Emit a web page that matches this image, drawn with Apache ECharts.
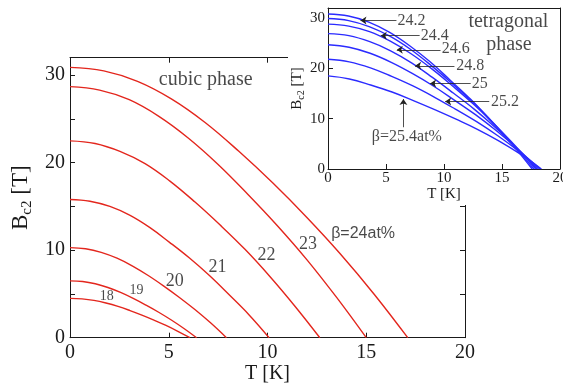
<!DOCTYPE html>
<html><head><meta charset="utf-8">
<script src="https://cdn.jsdelivr.net/npm/echarts@6/dist/echarts.min.js"></script>
<style>html,body{margin:0;padding:0;background:#fff}#c{width:563px;height:385px}</style>
</head><body><div id="c"></div>
<script>
// ---- cubic phase (main plot): T [K] and Bc2 [T] for each beta ----
const cubicBeta = ['18', '19', '20', '21', '22', '23', '24'];
const cubic18T = [0, 0.61, 1.21, 1.82, 2.43, 3.04, 3.64, 4.25, 4.86, 5.46, 6.07];
const cubic18B = [4.5, 4.44, 4.27, 3.97, 3.58, 3.1, 2.58, 2.01, 1.4, 0.73, 0];
const cubic19T = [0, 0.64, 1.28, 1.92, 2.56, 3.2, 3.85, 4.49, 5.13, 5.77, 6.41];
const cubic19B = [6.5, 6.42, 6.16, 5.74, 5.17, 4.49, 3.72, 2.91, 2.02, 1.05, 0];
const cubic20T = [0, 0.79, 1.58, 2.38, 3.17, 3.96, 4.75, 5.54, 6.34, 7.13, 7.92];
const cubic20B = [10.3, 10.17, 9.76, 9.09, 8.19, 7.11, 5.9, 4.6, 3.19, 1.67, 0];
const cubic21T = [0, 1.01, 2.02, 3.02, 4.03, 5.04, 6.05, 7.06, 8.06, 9.07, 10.08];
const cubic21B = [15.8, 15.6, 15.0, 14.0, 12.6, 10.9, 9.1, 7.1, 4.9, 2.6, 0];
const cubic22T = [0, 1.27, 2.53, 3.8, 5.06, 6.33, 7.59, 8.86, 10.12, 11.39, 12.65];
const cubic22B = [22.5, 22.2, 21.3, 19.9, 17.9, 15.5, 12.9, 10.1, 7.0, 3.6, 0];
const cubic23T = [0, 1.5, 3, 4.5, 6, 7.5, 9, 10.5, 12, 13.5, 15];
const cubic23B = [28.7, 28.3, 27.2, 25.3, 22.8, 19.8, 16.4, 12.8, 8.9, 4.6, 0];
const cubic24T = [0, 1.71, 3.42, 5.13, 6.84, 8.55, 10.26, 11.97, 13.68, 15.39, 17.1];
const cubic24B = [30.9, 30.5, 29.3, 27.3, 24.6, 21.3, 17.7, 13.8, 9.6, 5.0, 0];

// curve labels in the main plot (data coordinates)
const cubicLabelText = ['18', '19', '20', '21', '22', '23', 'β=24at%'];
const cubicLabelT = [1.86, 3.37, 5.31, 7.47, 9.95, 12.05, 14.84];
const cubicLabelB = [4.7, 5.44, 6.4, 8.1, 9.4, 10.7, 11.9];

// ---- tetragonal phase (inset) ----
const tetraBeta = ['24.2', '24.4', '24.6', '24.8', '25', '25.2', '25.4'];
const tetra242T = [0, 1.76, 3.52, 5.28, 7.04, 8.8, 10.56, 12.32, 14.08, 15.84, 17.6];
const tetra242B = [30.8, 30.4, 29.2, 27.2, 24.5, 21.3, 17.6, 13.8, 9.5, 5.0, 0];
const tetra244T = [0, 1.78, 3.55, 5.33, 7.1, 8.88, 10.65, 12.43, 14.2, 15.98, 17.75];
const tetra244B = [29.9, 29.5, 28.3, 26.4, 23.8, 20.6, 17.1, 13.4, 9.3, 4.8, 0];
const tetra246T = [0, 1.79, 3.58, 5.37, 7.16, 8.95, 10.74, 12.53, 14.32, 16.11, 17.9];
const tetra246B = [28.8, 28.4, 27.3, 25.4, 22.9, 19.9, 16.5, 12.9, 8.9, 4.7, 0];
const tetra248T = [0, 1.8, 3.6, 5.4, 7.2, 9, 10.8, 12.6, 14.4, 16.2, 18];
const tetra248B = [26.9, 26.5, 25.3, 23.5, 21.1, 18.2, 15.1, 11.9, 8.3, 4.3, 0];
const tetra250T = [0, 1.82, 3.63, 5.45, 7.26, 9.08, 10.89, 12.71, 14.52, 16.34, 18.15];
const tetra250B = [24.7, 24.2, 23.0, 21.2, 19.0, 16.5, 13.7, 10.8, 7.6, 4.0, 0];
const tetra252T = [0, 1.83, 3.66, 5.49, 7.32, 9.15, 10.98, 12.81, 14.64, 16.47, 18.3];
const tetra252B = [21.8, 21.3, 20.1, 18.4, 16.5, 14.3, 11.9, 9.4, 6.6, 3.5, 0];
const tetra254T = [0, 1.84, 3.68, 5.52, 7.36, 9.2, 11.04, 12.88, 14.72, 16.56, 18.4];
const tetra254B = [18.5, 17.9, 16.7, 15.3, 13.6, 11.8, 9.9, 7.9, 5.6, 3.0, 0];

// inset annotations: label anchor, arrow start and arrow tip (data coordinates)
const tetraLabelText = ['24.2', '24.4', '24.6', '24.8', '25', '25.2', 'β=25.4at%'];
const tetraLabelT = [6.0, 8.0, 9.8, 11.05, 12.4, 14.05, 6.8];
const tetraLabelB = [29.4, 26.5, 23.8, 20.5, 16.9, 13.3, 6.5];
const tetraArrowFromT = [5.9, 7.9, 9.7, 10.9, 12.3, 13.9, 6.5];
const tetraArrowFromB = [29.5, 26.5, 23.7, 20.5, 17.0, 13.4, 8.3];
const tetraTipT = [2.8, 4.55, 5.93, 7.51, 8.8, 10.1, 6.5];
const tetraTipB = [29.5, 26.5, 23.7, 20.5, 17.0, 13.4, 13.9];

// axis ticks
const mainXTicks = [0, 5, 10, 15, 20];
const mainYTicks = [0, 10, 20, 30];
const insetXTicks = [0, 5, 10, 15, 20];
const insetYTicks = [0, 10, 20, 30];

const cubicT = [cubic18T, cubic19T, cubic20T, cubic21T, cubic22T, cubic23T, cubic24T];
const cubicB = [cubic18B, cubic19B, cubic20B, cubic21B, cubic22B, cubic23B, cubic24B];
const tetraT = [tetra242T, tetra244T, tetra246T, tetra248T, tetra250T, tetra252T, tetra254T];
const tetraB = [tetra242B, tetra244B, tetra246B, tetra248B, tetra250B, tetra252B, tetra254B];

const SERIF = 'Liberation Serif';
const SANS = 'Liberation Sans';
const INK = '#1a1a1a';
const RED = '#e3261d';
const BLUE = '#2b2bff';
const zip = (a, b) => a.map((v, i) => [v, b[i]]);

const axisLineStyle = { lineStyle: { color: INK, width: 1 } };
const tickIn = { inside: true, length: 5, lineStyle: { color: INK, width: 1 } };

function valueAxis(o) {
  return Object.assign({
    type: 'value', splitLine: { show: false }, axisLine: Object.assign({ show: true, onZero: false }, axisLineStyle),
    axisTick: tickIn
  }, o);
}

const series = [];
cubicBeta.forEach((b, i) => {
  series.push({
    type: 'line', name: 'cubic ' + b, xAxisIndex: 0, yAxisIndex: 0,
    data: zip(cubicT[i], cubicB[i]), showSymbol: false, smooth: 0.4,
    lineStyle: { color: RED, width: 1.4 }, z: 2
  });
});
series.push({
  type: 'scatter', xAxisIndex: 0, yAxisIndex: 0, symbolSize: 0, z: 3,
  label: { show: true, position: 'inside', fontFamily: SERIF, fontSize: 18, color: INK },
  data: cubicLabelText.map((t, i) => ({
    value: [cubicLabelT[i], cubicLabelB[i]],
    label: {
      formatter: t,
      fontFamily: i === 6 ? SANS : SERIF,
      fontSize: i < 2 ? 14 : (i === 6 ? 16 : 18)
    }
  })).concat([
    { value: [6.87, 29.45], label: { formatter: 'cubic phase', fontSize: 20 } }
  ])
});

tetraBeta.forEach((b, i) => {
  series.push({
    type: 'line', name: 'tetragonal ' + b, xAxisIndex: 2, yAxisIndex: 2,
    data: zip(tetraT[i], tetraB[i]), showSymbol: false, smooth: 0.4,
    lineStyle: { color: BLUE, width: 1.4 }, z: 22
  });
});
series.push({
  type: 'lines', coordinateSystem: 'cartesian2d', xAxisIndex: 2, yAxisIndex: 2, z: 23,
  symbol: ['none', 'arrow'], symbolSize: 6,
  lineStyle: { color: '#222', width: 0.8, opacity: 1 },
  data: tetraTipT.map((t, i) => ({
    coords: [[tetraArrowFromT[i], tetraArrowFromB[i]], [tetraTipT[i], tetraTipB[i]]]
  }))
});
series.push({
  type: 'scatter', xAxisIndex: 2, yAxisIndex: 2, symbolSize: 0, z: 24,
  label: { show: true, position: 'right', distance: 0, fontFamily: SERIF, fontSize: 16, color: INK },
  data: tetraLabelText.map((t, i) => ({
    value: [tetraLabelT[i], tetraLabelB[i]],
    label: { formatter: t, position: i === 6 ? 'inside' : 'right' }
  })).concat([
    { value: [15.55, 29.3], label: { formatter: 'tetragonal', position: 'inside', fontSize: 20 } },
    { value: [15.6, 24.6], label: { formatter: 'phase', position: 'inside', fontSize: 20 } }
  ])
});

const tenOnly = v => (mainYTicks.indexOf(v) >= 0 ? String(v) : '');

const option = {
  animation: false,
  backgroundColor: '#fff',
  textStyle: { fontFamily: SERIF, color: INK },
  grid: [
    { left: 70, top: 57.7, right: 98, bottom: 47.3, containLabel: false, outerBoundsMode: 'none' },
    { left: 328, top: 8, right: 3, bottom: 216, containLabel: false, outerBoundsMode: 'none', z: 20 }
  ],
  graphic: [
    { type: 'rect', z: 10, silent: true, shape: { x: 288, y: 0, width: 275, height: 190 }, style: { fill: '#fff' } },
    { type: 'rect', z: 10, silent: true, shape: { x: 300, y: 0, width: 263, height: 205 }, style: { fill: '#fff' } }
  ],
  xAxis: [
    valueAxis({
      gridIndex: 0, position: 'bottom', min: 0, max: 20, interval: 5,
      axisLabel: { fontFamily: SERIF, fontSize: 20, color: INK, margin: 5,
        formatter: v => (mainXTicks.indexOf(v) >= 0 ? String(v) : '') },
      name: 'T [K]', nameLocation: 'middle', nameGap: 26, nameMoveOverlap: false,
      nameTextStyle: { fontFamily: SERIF, fontSize: 20, color: INK }
    }),
    valueAxis({ gridIndex: 0, position: 'top', min: 0, max: 20, interval: 5, axisLabel: { show: false } }),
    valueAxis({
      gridIndex: 1, position: 'bottom', min: 0, max: 20, interval: 5, z: 20,
      axisLabel: { fontFamily: SERIF, fontSize: 15, color: INK, margin: 2,
        formatter: v => (insetXTicks.indexOf(v) >= 0 ? String(v) : '') },
      name: 'T [K]', nameLocation: 'middle', nameGap: 17,
      nameTextStyle: { fontFamily: SERIF, fontSize: 15, color: INK }
    }),
    valueAxis({ gridIndex: 1, position: 'top', min: 0, max: 20, interval: 5, z: 20, axisLabel: { show: false }, axisTick: { show: false } })
  ],
  yAxis: [
    valueAxis({
      gridIndex: 0, position: 'left', min: 0, max: 32, interval: 5,
      axisLabel: { fontFamily: SERIF, fontSize: 20, color: INK, margin: 5, formatter: tenOnly },
      name: '{b|B}{s|c2}{b| [T]}', nameLocation: 'middle', nameGap: 32, nameRotate: 90,
      nameTextStyle: { rich: {
        b: { fontFamily: SERIF, fontSize: 23, color: INK },
        s: { fontFamily: SERIF, fontSize: 15, color: INK, padding: [12, 0, 0, 0] }
      } }
    }),
    valueAxis({ gridIndex: 0, position: 'right', min: 0, max: 32, interval: 5, axisLabel: { show: false } }),
    valueAxis({
      gridIndex: 1, position: 'left', min: 0, max: 32, interval: 10, z: 20,
      axisLabel: { fontFamily: SERIF, fontSize: 15, color: INK, margin: 3,
        formatter: v => (insetYTicks.indexOf(v) >= 0 ? String(v) : '') },
      name: '{b|B}{s|c2}{b| [T]}', nameLocation: 'middle', nameGap: 15, nameRotate: 90,
      nameTextStyle: { rich: {
        b: { fontFamily: SERIF, fontSize: 15, color: INK },
        s: { fontFamily: SERIF, fontSize: 10, color: INK, padding: [8, 0, 0, 0] }
      } }
    }),
    valueAxis({ gridIndex: 1, position: 'right', min: 0, max: 32, interval: 10, z: 20, axisLabel: { show: false }, axisTick: { show: false } })
  ],
  series: series
};

const chart = echarts.init(document.getElementById('c'), null, { renderer: 'canvas' });
chart.setOption(option);
</script>
</body></html>
